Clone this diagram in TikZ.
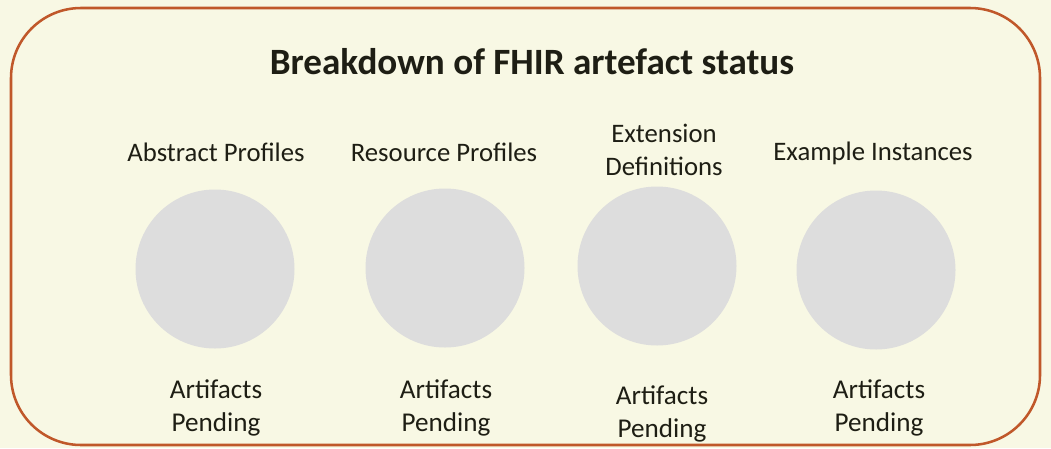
\documentclass[tikz,border=0pt]{standalone}
\usepackage{fontspec}
\setmainfont{Carlito}
\usetikzlibrary{positioning}
\colorlet{background}{white}
\definecolor{panelFill}{HTML}{F8F8E4}
\definecolor{frameColor}{HTML}{C0582A}
\definecolor{pieColor}{HTML}{DDDDDD}
\definecolor{textColor}{HTML}{1E1E14}

\begin{document}
\begin{tikzpicture}[x=0.025cm,y=-0.025cm,
    pie/.style={circle, fill=pieColor, minimum size=159*0.025cm, inner sep=0pt},
    cat/.style={text=textColor, align=center, font=\fontsize{19}{23.5}\selectfont},
    status/.style={text=textColor, align=center, font=\fontsize{19.3}{23.5}\selectfont}]
    \useasboundingbox (0,0) rectangle (1051,448);
    \fill[panelFill] (0,0) rectangle (1051,448);
    \draw[frameColor, line width=1.8pt, rounded corners=70*0.025cm] (11,8) rectangle (1040,445);

    \node[text=textColor, font=\fontsize{26.4}{30}\selectfont\bfseries] (title) at (532,62) {Breakdown of FHIR artefact status};

    % the four pies
    \node[pie] (abstract) at (215,269) {};
    \node[pie] (resource) at (445,268) {};
    \node[pie] (extension) at (657,266) {};
    \node[pie] (example) at (876,270) {};

    \node[cat] (abstractLbl) at (216,152) {Abstract Profiles};
    \node[cat] (resourceLbl) at (444,152) {Resource Profiles};
    \node[cat] (extensionLbl) at (664,150) {Extension\\Definitions};
    \node[cat] (exampleLbl) at (873,153) {Example Instances};

    \node[status] (abstractSt) at (216,408) {Artifacts\\Pending};
    \node[status] (resourceSt) at (446,408) {Artifacts\\Pending};
    \node[status] (extensionSt) at (662,414) {Artifacts\\Pending};
    \node[status] (exampleSt) at (879,408) {Artifacts\\Pending};
\end{tikzpicture}
\end{document}
